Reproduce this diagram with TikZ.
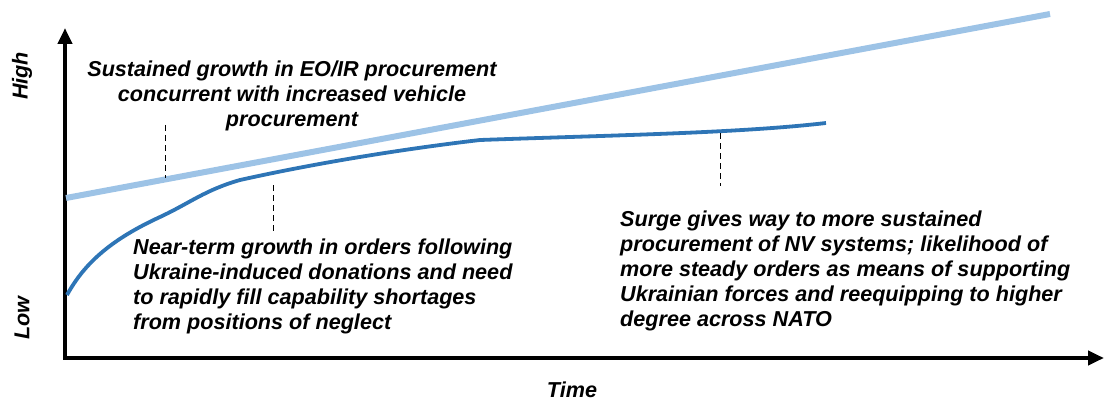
\documentclass[tikz,border=0pt]{standalone}
\usepackage{xcolor}
\usepackage{fontspec}
\setmainfont{Liberation Sans}
\usetikzlibrary{arrows.meta}

\definecolor{lightline}{RGB}{157,195,230}
\definecolor{darkline}{RGB}{46,117,182}

\begin{document}
\begin{tikzpicture}[x=1pt, y=-1pt,
    every node/.style={font=\fontsize{21.6}{25}\selectfont\bfseries\itshape, inner sep=0pt},
    axis/.style={line width=4pt, {Triangle[length=16pt,width=14pt]}-{Triangle[length=16pt,width=14pt]}},
    leader/.style={thin, dash pattern=on 6pt off 4pt},
    note/.style={align=left, anchor=north west}]
    \useasboundingbox (0,0) rectangle (1105,401);

    % Draw axes
    \coordinate (origin) at (65,358);
    \coordinate (ytip) at (65,28);
    \coordinate (xtip) at (1104,358);
    \draw[axis] (ytip) -- (origin) -- (xtip);
    \node[rotate=90] (high) at (22,76) {High};
    \node[rotate=90] (low) at (22,318) {Low};
    \node (time) at (572,390) {Time};

    % Draw EO/IR line and NV curve
    \coordinate (eostart) at (66,198);
    \coordinate (eoend) at (1050,14);
    \draw[lightline, line width=6pt] (eostart) -- (eoend);
    \coordinate (nvstart) at (67,295);
    \coordinate (nvend) at (826,123);
    \draw[darkline, line width=3.8pt] (nvstart)
        .. controls (84,264) and (110,240) .. (160,217)
        .. controls (190,203) and (205,190) .. (240,180)
        .. controls (330,160) and (420,147) .. (480,140)
        .. controls (620,135) and (740,133) .. (nvend);

    % Draw dashed leaders
    \foreach \n/\x/\ya/\yb in {eo/165/125/178, near/273/185/231, surge/720/133/186} {
        \coordinate (\n top) at (\x,\ya);
        \coordinate (\n bot) at (\x,\yb);
        \draw[leader] (\n top) -- (\n bot);
    }

    % Draw notes
    \node[align=center, anchor=north] (eonote) at (292,61)
        {Sustained growth in EO/IR procurement\\concurrent with increased vehicle\\procurement};
    \node[note] (nearnote) at (133,239)
        {Near-term growth in orders following\\Ukraine-induced donations and need\\to rapidly fill capability shortages\\from positions of neglect};
    \node[note] (surgenote) at (620,211)
        {Surge gives way to more sustained\\procurement of NV systems; likelihood of\\more steady orders as means of supporting\\Ukrainian forces and reequipping to higher\\degree across NATO};
\end{tikzpicture}
\end{document}
